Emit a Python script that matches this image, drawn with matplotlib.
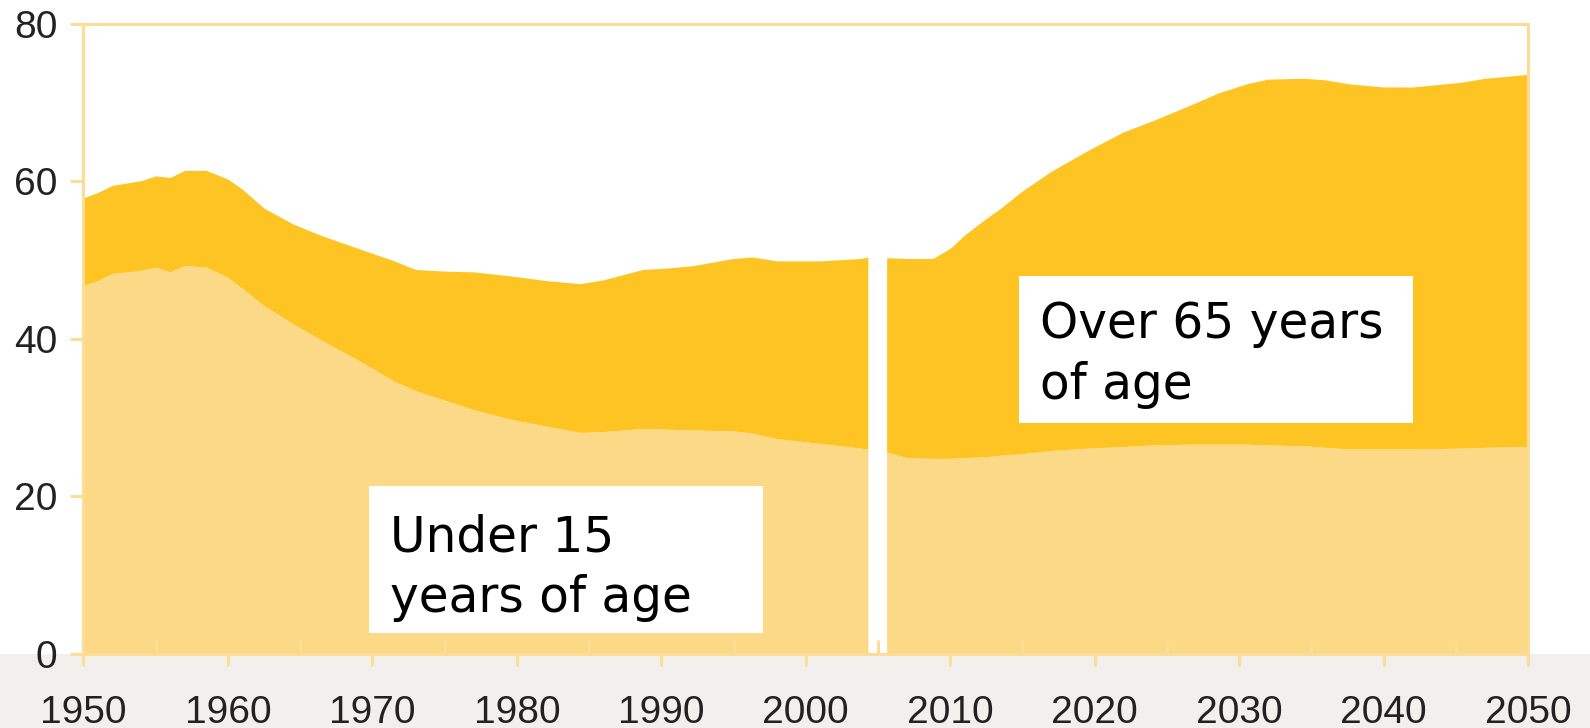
import matplotlib.pyplot as plt
from matplotlib.patches import Rectangle
from matplotlib.ticker import MultipleLocator

# --- data (dependency ratio, %) ---
years_hist = [1950, 1951, 1952, 1954, 1955, 1956, 1957, 1958.5, 1960, 1961, 1962.5,
              1964.5, 1966.5, 1969, 1971.5, 1973, 1975, 1977, 1979.5, 1982, 1984.4,
              1986, 1988.7, 1990.5, 1992.2, 1995, 1996.3, 1998, 2001, 2003.8, 2004.3]
total_hist = [57.9, 58.6, 59.5, 60.1, 60.7, 60.5, 61.4, 61.4, 60.3, 59.0, 56.6,
              54.6, 53.1, 51.5, 49.9, 48.8, 48.6, 48.5, 48.0, 47.4, 47.0,
              47.5, 48.8, 49.0, 49.3, 50.2, 50.4, 49.9, 49.9, 50.2, 50.4]
under15_hist = [46.8, 47.4, 48.3, 48.7, 49.1, 48.5, 49.3, 49.1, 47.8, 46.4, 44.2,
                41.9, 39.8, 37.3, 34.6, 33.4, 32.2, 31.0, 29.8, 28.9, 28.1,
                28.2, 28.6, 28.5, 28.4, 28.3, 28.0, 27.3, 26.7, 26.1, 26.0]

years_proj = [2005.6, 2007, 2008.8, 2010, 2011, 2012.5, 2013.5, 2015, 2017, 2019.5,
              2022, 2024, 2026.5, 2028.5, 2030.5, 2032, 2034.5, 2036, 2037.6, 2040,
              2042, 2045.4, 2047, 2050]
total_proj = [50.3, 50.2, 50.2, 51.5, 53.2, 55.3, 56.6, 58.8, 61.3, 63.9,
              66.3, 67.7, 69.6, 71.2, 72.4, 73.0, 73.1, 72.9, 72.4, 72.0,
              72.0, 72.6, 73.1, 73.6]
under15_proj = [25.6, 24.9, 24.8, 24.8, 24.9, 25.0, 25.2, 25.4, 25.8, 26.1,
                26.3, 26.5, 26.6, 26.6, 26.6, 26.5, 26.4, 26.2, 26.0, 26.0,
                26.0, 26.1, 26.2, 26.3]

label_under = "Under 15\nyears of age"
label_over = "Over 65 years\nof age"

# --- colours ---
LIGHT = '#fcd986'
DARK = '#fec424'
EDGE = '#fddd96'

fig = plt.figure(figsize=(15.9, 7.28), dpi=100)
# faded strip under the plot (photo background in the original slide)
fig.patches.append(Rectangle((0, 0), 1, 0.1023, transform=fig.transFigure,
                             facecolor='#f2f0ec', edgecolor='none', zorder=-10))
ax = fig.add_axes([0.0525, 0.1023, 0.9085, 0.8647])
ax.set_facecolor('white')

for yrs, tot, u15 in [(years_hist, total_hist, under15_hist),
                      (years_proj, total_proj, under15_proj)]:
    ax.fill_between(yrs, 0, u15, color=LIGHT, linewidth=0)
    ax.fill_between(yrs, u15, tot, color=DARK, linewidth=0)

# label boxes
ax.add_patch(Rectangle((1969.77, 2.6), 27.27, 18.66, facecolor='white', edgecolor='none', zorder=3))
ax.add_patch(Rectangle((2014.77, 29.25), 27.27, 18.78, facecolor='white', edgecolor='none', zorder=3))
ax.text(1971.25, 5.3, label_under, fontsize=35, family='DejaVu Sans', color='black',
        va='baseline', ha='left', linespacing=1.32, zorder=4)
ax.text(2016.2, 32.4, label_over, fontsize=35, family='DejaVu Sans', color='black',
        va='baseline', ha='left', linespacing=1.32, zorder=4)

ax.set_xlim(1950, 2050)
ax.set_ylim(0, 80)
ax.xaxis.set_major_locator(MultipleLocator(10))
ax.xaxis.set_minor_locator(MultipleLocator(5))
ax.yaxis.set_major_locator(MultipleLocator(20))
ax.yaxis.set_minor_locator(plt.NullLocator())

for side in ['top', 'bottom', 'left', 'right']:
    ax.spines[side].set_color(EDGE)
    ax.spines[side].set_linewidth(2.2)
    ax.spines[side].set_zorder(5)

ax.tick_params(axis='x', which='major', direction='out', length=8.6, width=2.2,
               color=EDGE, pad=21, labelsize=28, labelcolor='#222222')
ax.tick_params(axis='x', which='minor', direction='in', length=10, width=2.2, color=EDGE)
ax.tick_params(axis='y', which='major', direction='out', length=9.4, width=2.2,
               color=EDGE, pad=9.4, labelsize=28, labelcolor='#222222')
for lab in ax.get_xticklabels() + ax.get_yticklabels():
    lab.set_family('Liberation Sans')

fig.savefig('out.png', dpi=100)
